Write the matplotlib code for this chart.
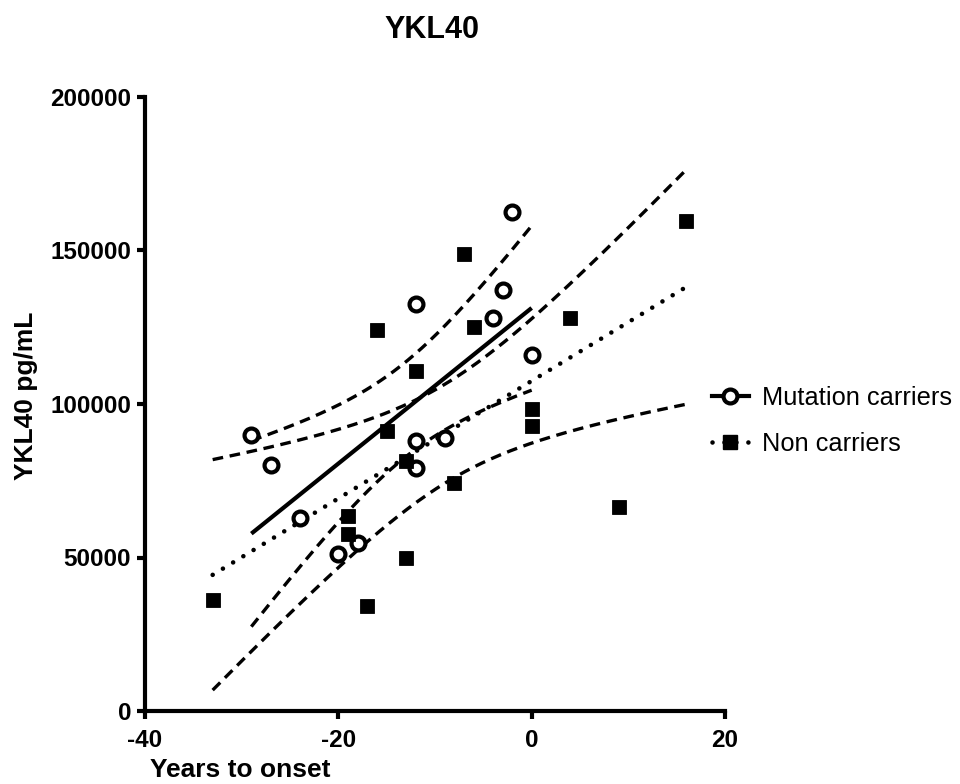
import numpy as np
import matplotlib
matplotlib.use("Agg")
import matplotlib.pyplot as plt
from matplotlib.lines import Line2D

plt.rcParams['font.family'] = ['Liberation Sans', 'DejaVu Sans']

# Data
mut_x = [-29, -27, -24, -20, -18, -12, -12, -12, -9, -4, -3, -2, 0]
mut_y = [90000, 80000, 63000, 51000, 54800, 132700, 88000, 79000, 88800,
         128000, 137000, 162600, 115800]

non_x = [-33, -19, -19, -17, -13, -13, -16, -12, -15, -7, -6, 0, 0, 4, 16, -8, 9]
non_y = [36300, 63600, 57500, 34300, 49700, 81300, 124200, 110900, 91300,
         148700, 125000, 98400, 92900, 128000, 159600, 74400, 66400]

x_ticks = [-40, -20, 0, 20]
y_ticks = [0, 50000, 100000, 150000, 200000]

title = "YKL40"
xlabel = "Years to onset"
ylabel = "YKL40 pg/mL"
labels = ["Mutation carriers", "Non carriers"]

# two-sided 95% t quantiles for n-2 degrees of freedom
T975 = {11: 2.201, 15: 2.131}


def fit_with_ci(x, y):
    x = np.asarray(x, float)
    y = np.asarray(y, float)
    n = len(x)
    b, a = np.polyfit(x, y, 1)
    resid = y - (a + b * x)
    s = np.sqrt(np.sum(resid ** 2) / (n - 2))
    sxx = np.sum((x - x.mean()) ** 2)
    xs = np.linspace(x.min(), x.max(), 200)
    yf = a + b * xs
    se = s * np.sqrt(1.0 / n + (xs - x.mean()) ** 2 / sxx)
    t = T975[n - 2]
    return xs, yf, yf - t * se, yf + t * se


fig = plt.figure(figsize=(9.6, 7.84), dpi=100)
ax = fig.add_axes([145 / 960, 1 - 711 / 784, 580 / 960, (711 - 97) / 784])

dash = (0, (3.2, 2.0))
dot = (0, (0.01, 2.6))

# Mutation carriers
xs, yf, lo, hi = fit_with_ci(mut_x, mut_y)
ax.plot(xs, yf, color='black', lw=3.0, solid_capstyle='butt', zorder=3)
ax.plot(xs, lo, color='black', lw=2.4, linestyle=dash, zorder=3)
ax.plot(xs, hi, color='black', lw=2.4, linestyle=dash, zorder=3)

# Non carriers
xs2, yf2, lo2, hi2 = fit_with_ci(non_x, non_y)
ax.plot(xs2, yf2, color='black', lw=3.3, linestyle=dot, dash_capstyle='round', zorder=3)
ax.plot(xs2, lo2, color='black', lw=2.4, linestyle=dash, zorder=3)
ax.plot(xs2, hi2, color='black', lw=2.4, linestyle=dash, zorder=3)

ax.plot(mut_x, mut_y, linestyle='none', marker='o', ms=10, mfc='white',
        mec='black', mew=3.0, zorder=4)
ax.plot(non_x, non_y, linestyle='none', marker='s', ms=10, mfc='black',
        mec='black', mew=0.6, zorder=4)

ax.set_xlim(-40, 20)
ax.set_ylim(0, 200000)
ax.set_xticks(x_ticks)
ax.set_yticks(y_ticks)
ax.set_xticklabels([str(v) for v in x_ticks])
ax.set_yticklabels([str(v) for v in y_ticks])
for sp in ['top', 'right']:
    ax.spines[sp].set_visible(False)
for sp in ['left', 'bottom']:
    ax.spines[sp].set_linewidth(3.0)
ax.tick_params(axis='both', length=6, width=3.0, labelsize=17.5, pad=4)
ax.tick_params(axis='x', pad=7)
for lab in ax.get_xticklabels() + ax.get_yticklabels():
    lab.set_fontweight('bold')
ax.patch.set_alpha(0)

fig.text(432 / 960, 1 - 38 / 784, title, ha='center', va='baseline',
         fontsize=22, fontweight='bold')
fig.text(240 / 960, 1 - 777 / 784, xlabel, ha='center', va='baseline',
         fontsize=19, fontweight='bold')
fig.text(26 / 960, 1 - 396 / 784, ylabel, ha='center', va='center',
         rotation=90, fontsize=19, fontweight='bold')

handles = [
    Line2D([], [], color='black', lw=3.0, marker='o', ms=10, mfc='white',
           mec='black', mew=3.0),
    Line2D([], [], color='black', lw=3.3, linestyle=dot, dash_capstyle='round',
           marker='s', ms=10, mfc='black', mec='black'),
]
fig.legend(handles, labels, loc='center left',
           bbox_to_anchor=(712 / 960, 1 - 421 / 784),
           frameon=False, fontsize=18.3, handlelength=1.45, handletextpad=0.5,
           labelspacing=0.85, borderpad=0, borderaxespad=0)

fig.savefig("out.png", dpi=100)
